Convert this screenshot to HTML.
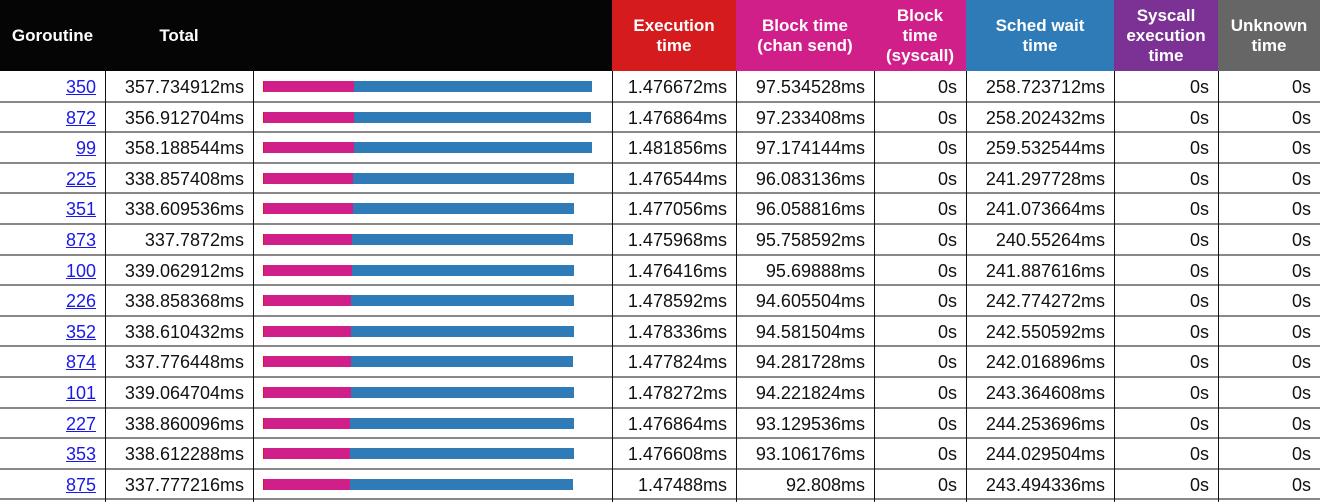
<!DOCTYPE html>
<html><head><meta charset="utf-8">
<style>
html,body{margin:0;padding:0;width:1320px;height:502px;overflow:hidden;background:#fff;font-family:"Liberation Sans",Arial,sans-serif;}
#root{position:relative;width:1320px;height:502px;}
.h{position:absolute;top:0;height:71px;color:#fff;font-weight:bold;font-size:17px;line-height:20px;display:flex;align-items:center;justify-content:center;text-align:center;}
.c{position:absolute;font-size:18px;line-height:30px;text-align:right;box-sizing:border-box;padding-right:9px;color:#111;white-space:nowrap;}
.c a{color:#1a1ae6;text-decoration:underline;}
.vl{position:absolute;top:71px;width:1px;height:431px;background:#111;}
.hl{position:absolute;left:0;width:1320px;height:2px;background:#888;}
.bar{position:absolute;height:11px;}
</style></head><body>
<div id="root"></div>
<script>
const goroutines=[350,872,99,225,351,873,100,226,352,874,101,227,353,875];
const totals=[357.734912,356.912704,358.188544,338.857408,338.609536,337.7872,339.062912,338.858368,338.610432,337.776448,339.064704,338.860096,338.612288,337.777216];
const totalLabels=["357.734912ms","356.912704ms","358.188544ms","338.857408ms","338.609536ms","337.7872ms","339.062912ms","338.858368ms","338.610432ms","337.776448ms","339.064704ms","338.860096ms","338.612288ms","337.777216ms"];
const execTimes=[1.476672,1.476864,1.481856,1.476544,1.477056,1.475968,1.476416,1.478592,1.478336,1.477824,1.478272,1.476864,1.476608,1.47488];
const execLabels=["1.476672ms","1.476864ms","1.481856ms","1.476544ms","1.477056ms","1.475968ms","1.476416ms","1.478592ms","1.478336ms","1.477824ms","1.478272ms","1.476864ms","1.476608ms","1.47488ms"];
const chanTimes=[97.534528,97.233408,97.174144,96.083136,96.058816,95.758592,95.69888,94.605504,94.581504,94.281728,94.221824,93.129536,93.106176,92.808];
const chanLabels=["97.534528ms","97.233408ms","97.174144ms","96.083136ms","96.058816ms","95.758592ms","95.69888ms","94.605504ms","94.581504ms","94.281728ms","94.221824ms","93.129536ms","93.106176ms","92.808ms"];
const schedTimes=[258.723712,258.202432,259.532544,241.297728,241.073664,240.55264,241.887616,242.774272,242.550592,242.016896,243.364608,244.253696,244.029504,243.494336];
const schedLabels=["258.723712ms","258.202432ms","259.532544ms","241.297728ms","241.073664ms","240.55264ms","241.887616ms","242.774272ms","242.550592ms","242.016896ms","243.364608ms","244.253696ms","244.029504ms","243.494336ms"];

const root=document.getElementById('root');
const cols=[0,105,253,612,736,874,966,1114,1218,1320];
const headers=[["Goroutine","#050505"],["Total","#050505"],["","#050505"],["Execution<br>time","#d61b1f"],["Block time<br>(chan send)","#d11f8a"],["Block<br>time<br>(syscall)","#d11f8a"],["Sched wait<br>time","#2f7bb8"],["Syscall<br>execution<br>time","#7b3294"],["Unknown<br>time","#666666"]];
const hname=["goroutine-header","total-header","bar-header","execution-time-header","block-chan-header","block-syscall-header","sched-wait-header","syscall-exec-header","unknown-time-header"];
headers.forEach((h,i)=>{
  const d=document.createElement('div');
  d.className='h';
  d.style.left=cols[i]+'px';d.style.width=(cols[i+1]-cols[i])+'px';d.style.background=h[1];
  d.innerHTML=h[0];
  
  
  root.appendChild(d);
});
const top0=71,rowH=30.6;
const maxT=Math.max(...totals);
const barX0=263,barW=329;
const sx=v=>v/maxT*barW;
function cell(ci,y,html,name,inter){
  const d=document.createElement('div');
  d.className='c';
  d.style.left=cols[ci]+'px';d.style.width=(cols[ci+1]-cols[ci])+'px';d.style.top=(y+1)+'px';d.style.height=rowH+'px';
  d.innerHTML=html;
  
  
  root.appendChild(d);
}
goroutines.forEach((g,i)=>{
  const y=top0+i*rowH;
  cell(0,y,'<a href="#">'+g+'</a>','goroutine-link',true);
  cell(1,y,totalLabels[i],'total-cell',false);
  cell(3,y,execLabels[i],'execution-time-cell',false);
  cell(4,y,chanLabels[i],'block-chan-cell',false);
  cell(5,y,'0s','block-syscall-cell',false);
  cell(6,y,schedLabels[i],'sched-wait-cell',false);
  cell(7,y,'0s','syscall-exec-cell',false);
  cell(8,y,'0s','unknown-time-cell',false);
  let x=barX0;
  [[execTimes[i],'#d61b1f','bar-execution'],[chanTimes[i],'#d11f8a','bar-chan-send'],[schedTimes[i],'#2f7bb8','bar-sched-wait']].forEach(s=>{
    const b=document.createElement('div');
    b.className='bar';
    b.style.left=x+'px';b.style.width=sx(s[0])+'px';b.style.top=(y+10)+'px';b.style.background=s[1];
    
    
    root.appendChild(b);
    x+=sx(s[0]);
  });
  const l=document.createElement('div');
  l.className='hl';l.style.top=(y+rowH-1)+'px';
  
  
  root.appendChild(l);
});
cols.slice(1,-1).forEach(c=>{
  const v=document.createElement('div');
  v.className='vl';v.style.left=c+'px';
  
  
  root.appendChild(v);
});
</script>
</body></html>
